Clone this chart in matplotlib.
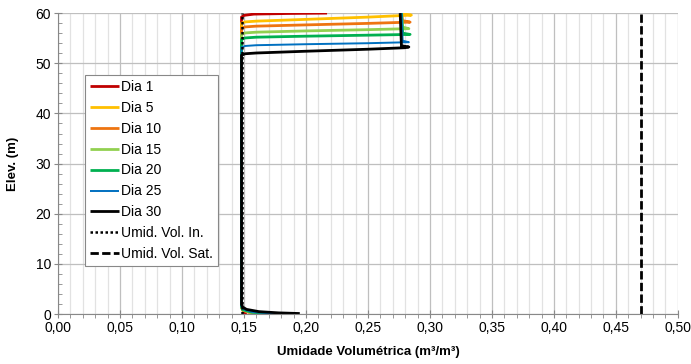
import matplotlib
matplotlib.use('Agg')
import matplotlib.pyplot as plt
from matplotlib.ticker import MultipleLocator, FuncFormatter

plt.rcParams['font.family'] = ['Liberation Sans', 'DejaVu Sans']

# profiles: (theta, elevation) per day
theta_d1 = [0.152, 0.150, 0.149, 0.148, 0.148, 0.150, 0.158, 0.185, 0.217]
elev_d1 = [0.0, 0.3, 0.8, 1.5, 59.2, 59.55, 59.8, 59.92, 60.0]

theta_d5 = [0.188, 0.168, 0.155, 0.149, 0.148, 0.148, 0.151, 0.160, 0.200, 0.250, 0.285, 0.279, 0.277]
elev_d5 = [0.0, 0.12, 0.35, 0.8, 1.4, 58.0, 58.25, 58.4, 58.75, 59.2, 59.6, 59.8, 60.0]

theta_d10 = [0.186, 0.166, 0.154, 0.149, 0.148, 0.148, 0.151, 0.160, 0.200, 0.250, 0.284, 0.278, 0.277]
elev_d10 = [0.0, 0.12, 0.35, 0.8, 1.4, 57.0, 57.25, 57.4, 57.65, 57.95, 58.2, 58.5, 60.0]

theta_d15 = [0.188, 0.168, 0.155, 0.149, 0.148, 0.148, 0.151, 0.160, 0.200, 0.250, 0.283, 0.278, 0.277]
elev_d15 = [0.0, 0.14, 0.38, 0.85, 1.4, 55.8, 56.05, 56.2, 56.45, 56.7, 56.9, 57.2, 60.0]

theta_d20 = [0.190, 0.170, 0.156, 0.149, 0.148, 0.148, 0.151, 0.160, 0.200, 0.250, 0.284, 0.278, 0.277]
elev_d20 = [0.0, 0.15, 0.4, 0.9, 1.5, 54.8, 55.05, 55.2, 55.4, 55.6, 55.75, 56.0, 60.0]

theta_d25 = [0.192, 0.172, 0.157, 0.150, 0.148, 0.148, 0.151, 0.160, 0.200, 0.250, 0.283, 0.278, 0.277]
elev_d25 = [0.0, 0.17, 0.42, 0.95, 1.5, 53.2, 53.45, 53.6, 53.8, 54.0, 54.2, 54.5, 60.0]

theta_d30 = [0.195, 0.178, 0.162, 0.152, 0.149, 0.148, 0.148, 0.151, 0.160, 0.200, 0.250, 0.280, 0.283, 0.277, 0.276]
elev_d30 = [0.12, 0.25, 0.5, 0.95, 1.4, 1.9, 51.6, 51.9, 52.05, 52.4, 52.8, 53.1, 53.25, 53.5, 60.0]

days = ['Dia 1', 'Dia 5', 'Dia 10', 'Dia 15', 'Dia 20', 'Dia 25', 'Dia 30']
thetas = [theta_d1, theta_d5, theta_d10, theta_d15, theta_d20, theta_d25, theta_d30]
elevs = [elev_d1, elev_d5, elev_d10, elev_d15, elev_d20, elev_d25, elev_d30]
colors = ['#C00000', '#FFC000', '#EE7410', '#92D050', '#00B050', '#0070C0', '#000000']
widths = [2.0, 2.0, 2.0, 2.0, 2.0, 1.4, 2.0]

theta_init = 0.148
theta_sat = 0.47
elev_range = [0, 60]

fig = plt.figure(figsize=(6.91, 3.64), dpi=100)
ax = fig.add_axes([0.084, 0.137, 0.897, 0.827])

for lab, th, el, c, w in zip(days, thetas, elevs, colors, widths):
    ax.plot(th, el, color=c, lw=w, label=lab, solid_capstyle='butt')

ax.plot([theta_init, theta_init], elev_range, color='black', lw=1.8,
        ls=(0, (1, 1)), label='Umid. Vol. In.')
ax.plot([theta_sat, theta_sat], elev_range, color='black', lw=2.0,
        ls=(0, (3, 1.2)), label='Umid. Vol. Sat.')

ax.set_xlim(0, 0.5)
ax.set_ylim(0, 60)
ax.xaxis.set_major_locator(MultipleLocator(0.05))
ax.xaxis.set_minor_locator(MultipleLocator(0.01))
ax.yaxis.set_major_locator(MultipleLocator(10))
ax.yaxis.set_minor_locator(MultipleLocator(2))
ax.xaxis.set_major_formatter(FuncFormatter(lambda v, p: '{:.2f}'.format(v).replace('.', ',')))

ax.grid(True, which='major', color='#BFBFBF', lw=0.9)
ax.grid(True, which='minor', axis='x', color='#E2E2E2', lw=0.9)
ax.set_axisbelow(True)

for s in ['top', 'right']:
    ax.spines[s].set_visible(False)
for s in ['left', 'bottom']:
    ax.spines[s].set_color('#888888')
ax.tick_params(which='major', direction='inout', length=6, color='#888888',
               labelsize=10, pad=2)
ax.tick_params(which='minor', direction='out', length=3, color='#888888')
ax.tick_params(axis='y', which='minor', direction='in')

ax.set_xlabel('Umidade Volumétrica (m³/m³)', fontsize=9.5, fontweight='bold', labelpad=8)
ax.set_ylabel('Elev. (m)', fontsize=9.5, fontweight='bold', labelpad=12)

leg = ax.legend(loc='upper left', bbox_to_anchor=(0.044, 0.795), fontsize=10,
                frameon=True, fancybox=False, edgecolor='#888888', framealpha=1,
                handlelength=2.1, handletextpad=0.15, labelspacing=0.5,
                borderpad=0.35, borderaxespad=0)
leg.get_frame().set_linewidth(0.8)

fig.savefig('out.png', dpi=100)
